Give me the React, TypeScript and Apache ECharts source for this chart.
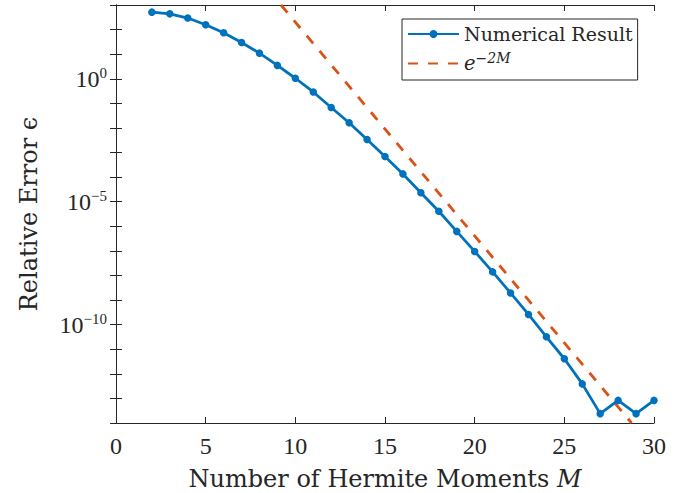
import React, { useEffect, useRef } from "react";
import * as echarts from "echarts";

const moments = [2, 3, 4, 5, 6, 7, 8, 9, 10, 11, 12, 13, 14, 15, 16, 17, 18, 19, 20, 21, 22, 23, 24, 25, 26, 27, 28, 29, 30];
const numericalError = [
  513, 437, 295, 158, 74, 30, 11, 3.5, 1.05, 0.29, 0.068, 0.0162, 3.4e-3, 6.9e-4, 1.35e-4, 2.3e-5, 4.1e-6, 6.2e-7,
  9.5e-8, 1.4e-8, 1.95e-9, 2.6e-10, 3.2e-11, 4.1e-12, 3.9e-13, 2.4e-14, 8.3e-14, 2.4e-14, 8.3e-14,
];
const refM = [9.2, 28.75];
const refError = [1e3, 1e-14];

const xTicks = { min: 0, max: 30, step: 5 };
const yRange = { min: 1e-14, max: 1e3 };

const TICK_FONT = "'Liberation Serif', 'Times New Roman', serif";
const TITLE_FONT = "'DejaVu Serif', serif";
const INK = "#262626";

export default function App() {
  const ref = useRef<HTMLDivElement>(null);
  useEffect(() => {
    if (!ref.current) return;
    const chart = echarts.init(ref.current, undefined, { renderer: "svg" });
    const numData = moments.map((m, i) => [m, numericalError[i]]);
    const refData = refM.map((m, i) => [m, refError[i]]);
    const supRich = {
      b: { fontSize: 24, lineHeight: 26, fontFamily: TICK_FONT, color: INK },
      s: { fontSize: 15, lineHeight: 16, padding: [0, 0, 12, 0], fontFamily: TICK_FONT, color: INK },
    };
    const yLabel = (v: number) => {
      const e = Math.round(Math.log10(v));
      if (e % 5 !== 0) return "";
      return `{b|10}{s|${e < 0 ? "\u2212" + -e : e}}`;
    };
    chart.setOption({
      animation: false,
      backgroundColor: "#ffffff",
      textStyle: { fontFamily: TICK_FONT },
      grid: { left: 116, right: 34, top: 5, bottom: 70, outerBoundsMode: "none", containLabel: false },
      legend: {
        orient: "vertical",
        left: 402,
        top: 19,
        padding: [3, 5, 4, 5],
        itemGap: 5,
        itemWidth: 51,
        itemHeight: 10,
        borderColor: INK,
        borderWidth: 1,
        borderRadius: 0,
        backgroundColor: "#ffffff",
        data: [{ name: "Numerical Result" }, { name: "e^-2M", itemStyle: { opacity: 0 } }],
        formatter: (name: string) => (name === "e^-2M" ? "{i|e}{s|\u22122M}" : name),
        textStyle: {
          fontFamily: TITLE_FONT,
          fontSize: 19,
          color: INK,
          lineHeight: 24,
          rich: {
            i: { fontSize: 19.5, fontStyle: "italic", fontFamily: TITLE_FONT, color: INK, lineHeight: 24 },
            s: { fontSize: 14, fontStyle: "italic", fontFamily: TITLE_FONT, color: INK, lineHeight: 15, padding: [0, 0, 11, 0] },
          },
        },
      },
      xAxis: [
        {
          type: "value",
          position: "bottom",
          min: xTicks.min,
          max: xTicks.max,
          interval: xTicks.step,
          splitLine: { show: false },
          axisLine: { show: true, lineStyle: { color: INK, width: 1 } },
          axisTick: { show: true, inside: true, length: 6, lineStyle: { color: INK } },
          axisLabel: { fontSize: 24, color: INK, fontFamily: TICK_FONT, margin: 11 },
          name: "Number of Hermite Moments {m|M}",
          nameLocation: "middle",
          nameGap: 44,
          nameTextStyle: {
            fontSize: 24,
            lineHeight: 24,
            color: INK,
            fontFamily: TITLE_FONT,
            rich: { m: { fontSize: 24, lineHeight: 24, fontStyle: "italic", fontFamily: TITLE_FONT, color: INK } },
          },
        },
        {
          type: "value",
          position: "top",
          min: xTicks.min,
          max: xTicks.max,
          interval: xTicks.step,
          splitLine: { show: false },
          axisLine: { show: true, lineStyle: { color: INK, width: 1 } },
          axisTick: { show: true, inside: true, length: 6, lineStyle: { color: INK } },
          axisLabel: { show: false },
        },
      ],
      yAxis: [
        {
          type: "log",
          position: "left",
          min: yRange.min,
          max: yRange.max,
          interval: 1,
          splitNumber: 17,
          splitLine: { show: false },
          minorTick: { show: false },
          axisLine: { show: true, lineStyle: { color: INK, width: 1 } },
          axisTick: { show: true, inside: true, length: 6, lineStyle: { color: INK } },
          axisLabel: { formatter: yLabel, margin: 9, rich: supRich },
          name: "Relative Error \u03F5",
          nameLocation: "middle",
          nameRotate: 90,
          nameGap: 75,
          nameTextStyle: { fontSize: 24, color: INK, fontFamily: TITLE_FONT },
        },
        {
          type: "log",
          position: "right",
          min: yRange.min,
          max: yRange.max,
          interval: 1,
          splitNumber: 17,
          splitLine: { show: false },
          axisLine: { show: true, lineStyle: { color: INK, width: 1 } },
          axisTick: { show: true, inside: true, length: 6, lineStyle: { color: INK } },
          axisLabel: { show: false },
        },
      ],
      series: [
        {
          name: "Numerical Result",
          type: "line",
          data: numData,
          xAxisIndex: 0,
          yAxisIndex: 0,
          color: "#0072BD",
          lineStyle: { width: 2.8, color: "#0072BD" },
          itemStyle: { color: "#0072BD" },
          symbol: "circle",
          symbolSize: 7.5,
          showSymbol: true,
          z: 3,
        },
        {
          name: "e^-2M",
          type: "line",
          data: refData,
          xAxisIndex: 0,
          yAxisIndex: 0,
          color: "#D95319",
          lineStyle: { width: 2.8, color: "#D95319", type: [10, 10] },
          itemStyle: { color: "#D95319" },
          symbol: "none",
          showSymbol: false,
          z: 2,
        },
      ],
    });
    return () => chart.dispose();
  }, []);
  return <div ref={ref} style={{ position: "absolute", left: 0, top: 0, width: 688, height: 493 }} />;
}
